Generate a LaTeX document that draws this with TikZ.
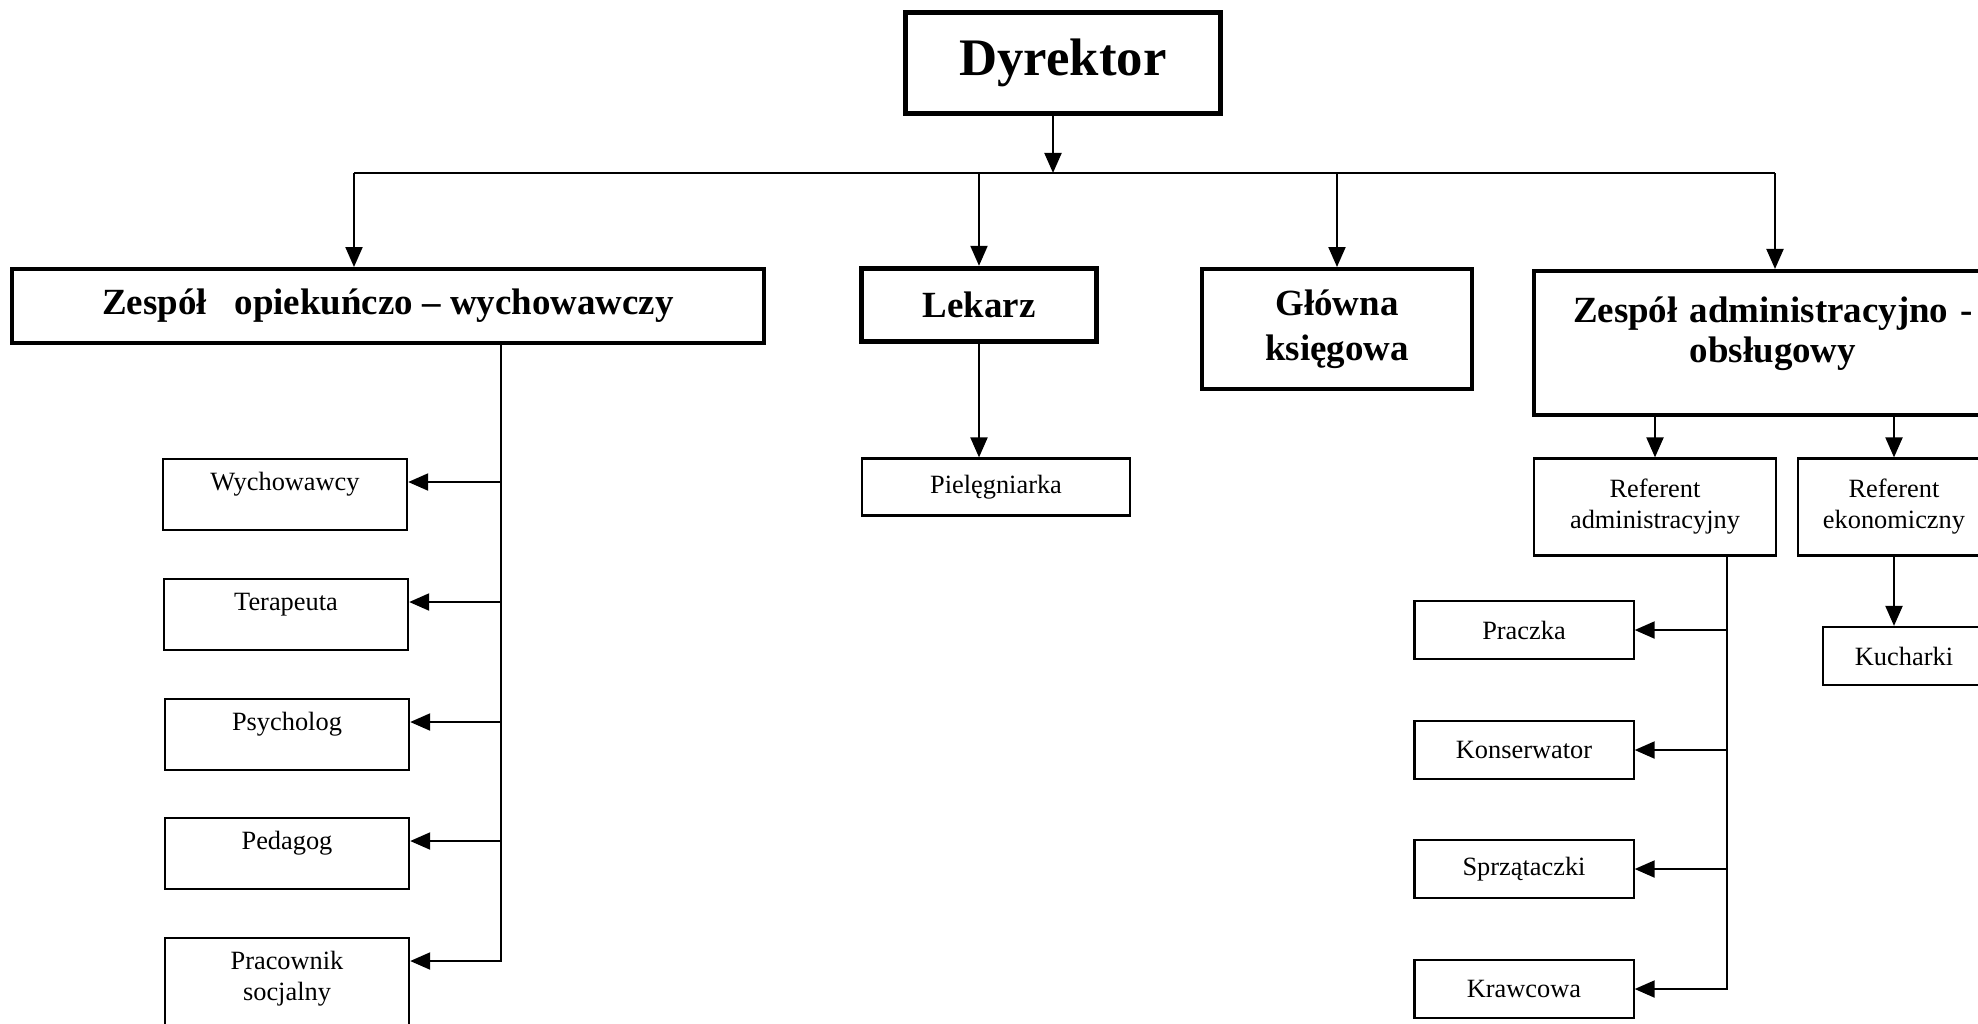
\documentclass[tikz,border=0pt]{standalone}
\usepackage{fontspec}
\setmainfont{Liberation Serif}
\usetikzlibrary{arrows.meta}

\begin{document}
\begin{tikzpicture}[x=0.01cm, y=-0.01cm,
	head/.style={draw, line width=1.1pt, inner sep=0pt, align=center,
		font=\fontsize{10.5}{12.8}\selectfont\bfseries},
	post/.style={draw, line width=0.6pt, inner sep=0pt, align=center,
		font=\fontsize{7.5}{8.8}\selectfont},
	staff/.style={post, minimum width=2.44cm, inner ysep=0.11cm,
		text height=0.2cm, text depth=0.29cm, anchor=north},
	worker/.style={post, minimum width=2.19cm, minimum height=0.58cm},
	arr/.style={line width=0.7pt, -{Triangle[length=5.7pt, width=4.8pt]}}]
	\useasboundingbox (0,0) rectangle (1978,1023);
	\clip (0,0) rectangle (1978,1023);
	\node[head, line width=1.2pt, minimum width=3.15cm, minimum height=1.01cm,
		font=\fontsize{15}{18}\selectfont\bfseries] (dyr) at (1063,63) {Dyrektor};
	\node[head, minimum width=7.51cm, minimum height=0.74cm] (zow) at (388,306)
		{Zespół\ \ \ opiekuńczo – wychowawczy};
	\node[head, line width=1.5pt, minimum width=2.35cm, minimum height=0.73cm] (lek) at (979,305) {Lekarz};
	\node[head, text width=2.5cm, minimum width=2.7cm, minimum height=1.2cm] (glk) at (1337,329) {Główna\\księgowa};
	\node[head, text width=4.5cm, minimum width=4.78cm, text height=0.52cm,
		text depth=0.92cm, anchor=north, font=\fontsize{10.5}{11.1}\selectfont\bfseries] (zao) at (1773,269)
		{Zespół administracyjno -\\obsługowy};
	\node[post, minimum width=2.68cm, minimum height=0.57cm] (pie) at (996,487) {Pielęgniarka};
	\node[post, text width=2.3cm, minimum width=2.41cm, minimum height=0.97cm] (refa) at (1655,507) {Referent\\administracyjny};
	\node[post, text width=1.85cm, minimum width=1.92cm, minimum height=0.97cm] (refe) at (1894,507) {Referent\\ekonomiczny};
	\node[post, minimum width=1.62cm, minimum height=0.58cm] (kuc) at (1904,656) {Kucharki};
	\node[staff] (wyc) at (285,458) {Wychowawcy};
	\node[staff] (ter) at (286,578) {Terapeuta};
	\node[staff] (psy) at (287,698) {Psycholog};
	\node[staff] (ped) at (287,817) {Pedagog};
	\node[staff, text width=2.2cm, text depth=0.6cm] (soc) at (287,937) {Pracownik\\socjalny};
	\node[worker] (pra) at (1524,630) {Praczka};
	\node[worker] (kon) at (1524,750) {Konserwator};
	\node[worker] (spr) at (1524,869) {Sprzątaczki};
	\node[worker] (kra) at (1524,989) {Krawcowa};
	\coordinate (bus) at (1053,173);
	\coordinate (bl) at (354,173);
	\coordinate (br) at (1775,173);
	\coordinate (zl) at (501,343);
	\coordinate (rl) at (1727,556);
	\draw[arr] (dyr.south -| bus) -- (bus);
	\draw[line width=0.7pt] (bl) -- (br);
	\draw[arr] (bl) -- (bl |- zow.north);
	\draw[arr] (lek.north |- bus) -- (lek.north);
	\draw[arr] (glk.north |- bus) -- (glk.north);
	\draw[arr] (br) -- (br |- zao.north);
	\draw[arr] (lek.south) -- (lek.south |- pie.north);
	\draw[arr] (zao.south -| refa.north) -- (refa.north);
	\draw[arr] (zao.south -| refe.north) -- (refe.north);
	\draw[arr] (refe.south) -- (refe.south |- kuc.north);
	\draw[arr] (zl) |- (soc.mid east);
	\draw[arr] (zl |- wyc.mid east) -- (wyc.mid east);
	\draw[arr] (zl |- ter.mid east) -- (ter.mid east);
	\draw[arr] (zl |- psy.mid east) -- (psy.mid east);
	\draw[arr] (zl |- ped.mid east) -- (ped.mid east);
	\draw[arr] (rl) |- (kra.east);
	\draw[arr] (rl |- pra.east) -- (pra.east);
	\draw[arr] (rl |- kon.east) -- (kon.east);
	\draw[arr] (rl |- spr.east) -- (spr.east);
\end{tikzpicture}
\end{document}
